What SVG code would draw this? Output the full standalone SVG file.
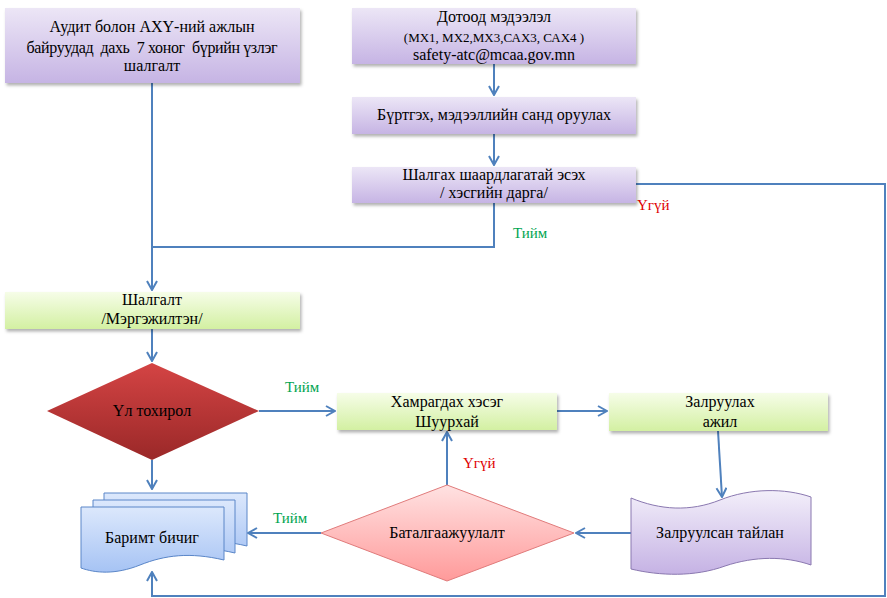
<svg xmlns="http://www.w3.org/2000/svg" width="887" height="598" viewBox="0 0 887 598">
<style>
text{font-family:'Liberation Serif','DejaVu Serif',serif}
.t{font-size:16px;fill:#000;text-anchor:middle}
.s{font-size:13px}
.yes{font-size:15px;fill:#00a550}
.no{font-size:15px;fill:#e00000}
.c{fill:none;stroke:#4f81bd;stroke-width:2}
</style>
<defs>
<linearGradient id="gP" x1="0" y1="0" x2="0" y2="1"><stop offset="0" stop-color="#ece6f6"/><stop offset="1" stop-color="#c6b4e4"/></linearGradient>
<linearGradient id="gG" x1="0" y1="0" x2="0" y2="1"><stop offset="0" stop-color="#f6fde8"/><stop offset="1" stop-color="#d3f0a2"/></linearGradient>
<linearGradient id="gR" x1="0" y1="0" x2="0" y2="1"><stop offset="0" stop-color="#d44444"/><stop offset="1" stop-color="#9a2828"/></linearGradient>
<linearGradient id="gK" x1="0" y1="0" x2="0" y2="1"><stop offset="0" stop-color="#ffe2e2"/><stop offset="1" stop-color="#ff9a9a"/></linearGradient>
<linearGradient id="gB" x1="0" y1="0" x2="0" y2="1"><stop offset="0" stop-color="#dce8fc"/><stop offset="1" stop-color="#a6c3f4"/></linearGradient>
<linearGradient id="gT" x1="0" y1="0" x2="0" y2="1"><stop offset="0" stop-color="#f3effa"/><stop offset="1" stop-color="#c5b2e4"/></linearGradient>
<filter id="sh" x="-10%" y="-20%" width="120%" height="150%"><feDropShadow dx="1.5" dy="2.5" stdDeviation="1.5" flood-color="#000" flood-opacity="0.3"/></filter>
<marker id="ar" viewBox="0 0 12 12" refX="11" refY="6" markerWidth="12" markerHeight="12" markerUnits="userSpaceOnUse" orient="auto"><path d="M2,1 L11,6 L2,11" fill="none" stroke="#4f81bd" stroke-width="2"/></marker>
</defs>

<g id="connectors">
<path class="c" d="M152,83 V290" marker-end="url(#ar)"/>
<path class="c" d="M494,64 V95" marker-end="url(#ar)"/>
<path class="c" d="M494,134 V165" marker-end="url(#ar)"/>
<path class="c" d="M494,203 V247 H152"/>
<path class="c" d="M636,184 H885 V596 H152 V572" marker-end="url(#ar)"/>
<path class="c" d="M152,329 V361" marker-end="url(#ar)"/>
<path class="c" d="M259,411 H335" marker-end="url(#ar)"/>
<path class="c" d="M152,460 V489" marker-end="url(#ar)"/>
<path class="c" d="M557,411 H607" marker-end="url(#ar)"/>
<path class="c" d="M718,431 L722,497" marker-end="url(#ar)"/>
<path class="c" d="M631,533 H576" marker-end="url(#ar)"/>
<path class="c" d="M447,485 V432" marker-end="url(#ar)"/>
<path class="c" d="M321,533 H248" marker-end="url(#ar)"/>
<text class="no" x="637" y="210">Үгүй</text>
<text class="yes" x="513" y="238">Тийм</text>
<text class="yes" x="285" y="392">Тийм</text>
<text class="no" x="463" y="468">Үгүй</text>
<text class="yes" x="273" y="523">Тийм</text>
</g>

<g id="audit">
<rect x="5" y="8" width="295" height="75" fill="url(#gP)" filter="url(#sh)"/>
<text class="t" x="152" y="32">Аудит болон АХҮ-ний ажлын</text>
<text class="t" x="152" y="53" xml:space="preserve" textLength="251" lengthAdjust="spacing">байруудад  дахь  7 хоног  бүрийн үзлэг</text>
<text class="t" x="152" y="71">шалгалт</text>
</g>

<g id="dotood">
<rect x="352" y="8" width="284" height="56" fill="url(#gP)" filter="url(#sh)"/>
<text class="t" x="494" y="22">Дотоод мэдээлэл</text>
<text class="t s" x="494" y="42">(МХ1, МХ2,МХ3,САХ3, САХ4 )</text>
<text class="t" x="494" y="60">safety-atc@mcaa.gov.mn</text>
</g>

<g id="burtgeh">
<rect x="352" y="97" width="284" height="37" fill="url(#gP)" filter="url(#sh)"/>
<text class="t" x="494" y="120">Бүртгэх, мэдээллийн санд оруулах</text>
</g>

<g id="shalgah">
<rect x="352" y="167" width="284" height="36" fill="url(#gP)" filter="url(#sh)"/>
<text class="t" x="494" y="180">Шалгах шаардлагатай эсэх</text>
<text class="t" x="494" y="198">/ хэсгийн дарга/</text>
</g>

<g id="shalgalt">
<rect x="5" y="292" width="295" height="37" fill="url(#gG)" filter="url(#sh)"/>
<text class="t" x="152" y="305">Шалгалт</text>
<text class="t" x="152" y="324">/Мэргэжилтэн/</text>
</g>

<g id="ul-tohirol">
<polygon points="152,363 259,411 152,460 47,411" fill="url(#gR)"/>
<text class="t" x="152" y="416">Үл тохирол</text>
</g>

<g id="hamragdah">
<rect x="337" y="393" width="220" height="37" fill="url(#gG)" filter="url(#sh)"/>
<text class="t" x="447" y="407">Хамрагдах хэсэг</text>
<text class="t" x="447" y="427">Шуурхай</text>
</g>

<g id="zalruulah">
<rect x="609" y="393" width="219" height="38" fill="url(#gG)" filter="url(#sh)"/>
<text class="t" x="720" y="407">Залруулах</text>
<text class="t" x="720" y="427">ажил</text>
</g>

<g id="zalruulsan-tailan">
<path d="M631,498 C660,510 690,512 720,500 C750,488 785,488 811,497 V565 C785,556 755,556 725,566 C695,577 660,576 631,569 Z" fill="url(#gT)" stroke="#8a78b0" stroke-width="1"/>
<text class="t" x="720" y="538">Залруулсан тайлан</text>
</g>

<g id="batalgaajuulalt">
<polygon points="447,485 574,533 447,581 321,533" fill="url(#gK)" stroke="#e07b7b" stroke-width="1"/>
<text class="t" x="447" y="538">Баталгаажуулалт</text>
</g>

<g id="barimt">
<path d="M104,493 H247 V546 C213,538 188,541 163,551 C138,561 118,559 104,554 Z" fill="url(#gB)" stroke="#5a86c8" stroke-width="1"/>
<path d="M93,500 H235 V553 C201,545 176,548 151,558 C126,568 106,566 93,561 Z" fill="url(#gB)" stroke="#5a86c8" stroke-width="1"/>
<path d="M81,507 H224 V560 C190,552 165,555 140,565 C115,575 95,573 81,568 Z" fill="url(#gB)" stroke="#5a86c8" stroke-width="1"/>
<text class="t" x="152" y="543">Баримт бичиг</text>
</g>
</svg>
